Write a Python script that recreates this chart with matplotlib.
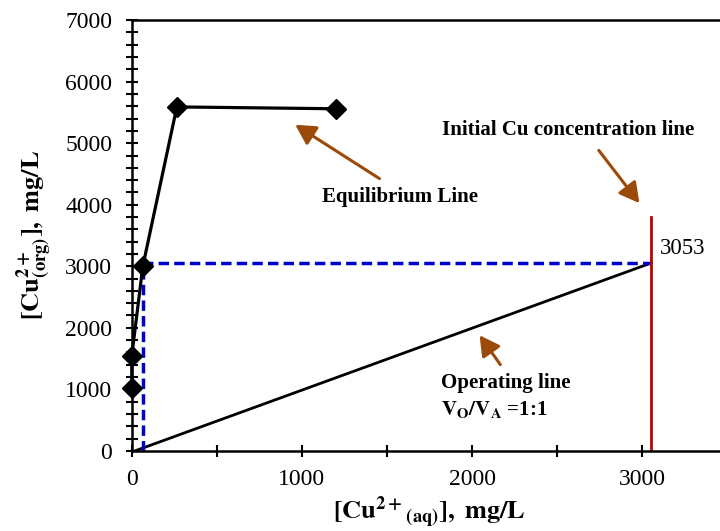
import matplotlib.pyplot as plt
from matplotlib.ticker import MultipleLocator
import numpy as np

plt.rcParams['font.family'] = 'Liberation Serif'
plt.rcParams['mathtext.fontset'] = 'stix'

# equilibrium data
eq_x = [0, 0, 65, 265, 1200]
eq_y = [1020, 1540, 3000, 5590, 5560]

# operating line (V_O/V_A = 1:1)
op_x = [20, 3053]
op_y = [0, 3053]

# construction (stage) lines
stage_x = [65, 65, 3053]
stage_y = [0, 3053, 3053]

# initial Cu concentration line
init_x = 3053
init_top = 3800

brown = '#9C4A0A'

fig = plt.figure(figsize=(7.2, 5.31), dpi=100)
ax = fig.add_axes([0.183, 0.151, 0.827, 0.811])

ax.plot(op_x, op_y, color='black', linewidth=2)
ax.plot(stage_x, stage_y, color='#0000CC', linewidth=2.5, linestyle=(0, (3, 1.5)))
ax.plot([init_x, init_x], [0, init_top], color='#C00000', linewidth=2)
ax.plot(eq_x, eq_y, color='black', linewidth=2.3, marker='D', markersize=10,
        clip_on=False, zorder=5)

# annotations
arr = dict(arrowstyle='-|>,head_length=0.55,head_width=0.3', color=brown,
           lw=2.2, mutation_scale=22)
ax.annotate('', xy=(947, 5325), xytext=(1470, 4400), arrowprops=arr)
ax.text(1576, 4123, 'Equilibrium Line', fontsize=15, fontweight='bold',
        ha='center', va='center')
ax.annotate('', xy=(2994, 3990), xytext=(2735, 4920), arrowprops=arr)
ax.text(2565, 5210, 'Initial Cu concentration line', fontsize=15,
        fontweight='bold', ha='center', va='center')
ax.annotate('', xy=(2035, 1915), xytext=(2176, 1364), arrowprops=arr)
ax.text(1818, 1100, 'Operating line', fontsize=15, fontweight='bold',
        ha='left', va='center')
ax.text(1818, 665, r'$\mathbf{V_{O}/V_{A}}$ =1:1', fontsize=15,
        fontweight='bold', ha='left', va='center')
ax.text(3240, 3295, '3053', fontsize=16.5, ha='center', va='center')

ax.set_xlim(0, 3500)
ax.set_ylim(0, 7000)
ax.xaxis.set_major_locator(MultipleLocator(1000))
ax.xaxis.set_minor_locator(MultipleLocator(500))
ax.yaxis.set_major_locator(MultipleLocator(1000))
ax.yaxis.set_minor_locator(MultipleLocator(200))
ax.tick_params(which='both', direction='inout', length=8, width=1.5,
               labelsize=17)
ax.tick_params(axis='x', pad=9)
ax.tick_params(axis='y', pad=10)

for s in ['left', 'bottom', 'top']:
    ax.spines[s].set_linewidth(1.8)
ax.spines['right'].set_visible(False)

ax.set_xlabel(r'$\mathbf{[Cu^{2+}{}_{(aq)}],\ mg/L}$', fontsize=19, labelpad=3)
ax.set_ylabel(r'$\mathbf{[Cu^{2+}_{(org)}],\ mg/L}$', fontsize=19, labelpad=8)

plt.savefig('out.png', dpi=100)
